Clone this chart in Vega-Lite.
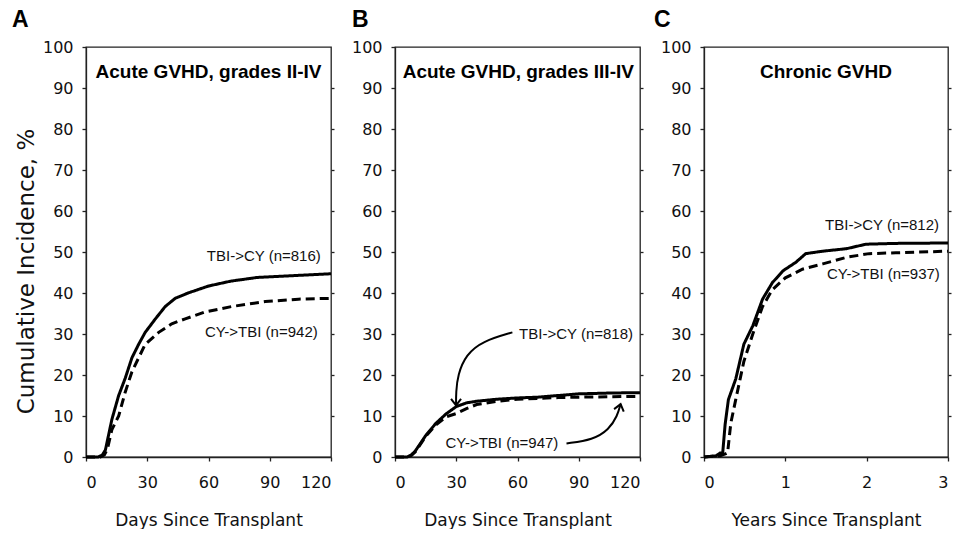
{
  "$schema": "https://vega.github.io/schema/vega-lite/v6.json",
  "background": "white",
  "padding": {"left": 11, "top": 8, "right": 0, "bottom": 0},
  "spacing": 64,
  "bounds": "flush",
  "datasets": {
    "curvesA": [
      {"t": 0, "v": 0, "g": "TBI->CY"}, {"t": 6, "v": 0, "g": "TBI->CY"}, {"t": 8, "v": 0.5, "g": "TBI->CY"}, {"t": 9.5, "v": 1.7, "g": "TBI->CY"},
      {"t": 12.7, "v": 9.2, "g": "TBI->CY"}, {"t": 16, "v": 15, "g": "TBI->CY"}, {"t": 19.2, "v": 19.2, "g": "TBI->CY"}, {"t": 22.5, "v": 24.2, "g": "TBI->CY"},
      {"t": 25.8, "v": 27.5, "g": "TBI->CY"}, {"t": 29, "v": 30.4, "g": "TBI->CY"}, {"t": 34, "v": 33.7, "g": "TBI->CY"}, {"t": 38.8, "v": 36.7, "g": "TBI->CY"},
      {"t": 43.7, "v": 38.7, "g": "TBI->CY"}, {"t": 50, "v": 40, "g": "TBI->CY"}, {"t": 60, "v": 41.7, "g": "TBI->CY"}, {"t": 71, "v": 42.9, "g": "TBI->CY"},
      {"t": 84, "v": 43.8, "g": "TBI->CY"}, {"t": 104, "v": 44.3, "g": "TBI->CY"}, {"t": 120, "v": 44.7, "g": "TBI->CY"},
      {"t": 0, "v": 0, "g": "CY->TBI"}, {"t": 7, "v": 0, "g": "CY->TBI"}, {"t": 9, "v": 0.5, "g": "CY->TBI"}, {"t": 10.5, "v": 2, "g": "CY->TBI"},
      {"t": 12.7, "v": 6.7, "g": "CY->TBI"}, {"t": 16, "v": 10, "g": "CY->TBI"}, {"t": 19.2, "v": 15.8, "g": "CY->TBI"}, {"t": 22.5, "v": 20.8, "g": "CY->TBI"},
      {"t": 25.8, "v": 24.2, "g": "CY->TBI"}, {"t": 29, "v": 27.5, "g": "CY->TBI"}, {"t": 35.6, "v": 30.4, "g": "CY->TBI"}, {"t": 42, "v": 32.5, "g": "CY->TBI"},
      {"t": 48.6, "v": 33.7, "g": "CY->TBI"}, {"t": 58.4, "v": 35.4, "g": "CY->TBI"}, {"t": 71.4, "v": 36.7, "g": "CY->TBI"}, {"t": 87.8, "v": 37.9, "g": "CY->TBI"},
      {"t": 104, "v": 38.5, "g": "CY->TBI"}, {"t": 120, "v": 38.7, "g": "CY->TBI"}
    ],
    "curvesB": [
      {"t": 0, "v": 0, "g": "TBI->CY"}, {"t": 6, "v": 0, "g": "TBI->CY"}, {"t": 8, "v": 0.5, "g": "TBI->CY"}, {"t": 10, "v": 1.5, "g": "TBI->CY"},
      {"t": 15, "v": 5.2, "g": "TBI->CY"}, {"t": 20, "v": 8.2, "g": "TBI->CY"}, {"t": 25, "v": 10.5, "g": "TBI->CY"}, {"t": 30, "v": 12.3, "g": "TBI->CY"},
      {"t": 35, "v": 13.2, "g": "TBI->CY"}, {"t": 40, "v": 13.6, "g": "TBI->CY"}, {"t": 50, "v": 14.1, "g": "TBI->CY"}, {"t": 60, "v": 14.4, "g": "TBI->CY"},
      {"t": 70, "v": 14.6, "g": "TBI->CY"}, {"t": 80, "v": 15, "g": "TBI->CY"}, {"t": 90, "v": 15.4, "g": "TBI->CY"}, {"t": 105, "v": 15.6, "g": "TBI->CY"},
      {"t": 120, "v": 15.7, "g": "TBI->CY"},
      {"t": 0, "v": 0, "g": "CY->TBI"}, {"t": 6, "v": 0, "g": "CY->TBI"}, {"t": 8, "v": 0.4, "g": "CY->TBI"}, {"t": 10, "v": 1.3, "g": "CY->TBI"},
      {"t": 15, "v": 5, "g": "CY->TBI"}, {"t": 20, "v": 7.8, "g": "CY->TBI"}, {"t": 25, "v": 9.8, "g": "CY->TBI"}, {"t": 30, "v": 10.6, "g": "CY->TBI"},
      {"t": 35, "v": 11.8, "g": "CY->TBI"}, {"t": 40, "v": 12.8, "g": "CY->TBI"}, {"t": 50, "v": 13.6, "g": "CY->TBI"}, {"t": 60, "v": 14.1, "g": "CY->TBI"},
      {"t": 70, "v": 14.3, "g": "CY->TBI"}, {"t": 80, "v": 14.5, "g": "CY->TBI"}, {"t": 90, "v": 14.6, "g": "CY->TBI"}, {"t": 105, "v": 14.7, "g": "CY->TBI"},
      {"t": 120, "v": 14.8, "g": "CY->TBI"}
    ],
    "curvesC": [
      {"t": 0, "v": 0, "g": "TBI->CY"}, {"t": 0.15, "v": 0.3, "g": "TBI->CY"}, {"t": 0.2, "v": 1, "g": "TBI->CY"}, {"t": 0.23, "v": 1, "g": "TBI->CY"},
      {"t": 0.26, "v": 8, "g": "TBI->CY"}, {"t": 0.3, "v": 14, "g": "TBI->CY"}, {"t": 0.39, "v": 19, "g": "TBI->CY"}, {"t": 0.49, "v": 27.5, "g": "TBI->CY"},
      {"t": 0.6, "v": 32, "g": "TBI->CY"}, {"t": 0.72, "v": 38.5, "g": "TBI->CY"}, {"t": 0.84, "v": 42.5, "g": "TBI->CY"}, {"t": 0.97, "v": 45.4, "g": "TBI->CY"},
      {"t": 1.13, "v": 47.5, "g": "TBI->CY"}, {"t": 1.25, "v": 49.6, "g": "TBI->CY"}, {"t": 1.46, "v": 50.2, "g": "TBI->CY"}, {"t": 1.75, "v": 50.8, "g": "TBI->CY"},
      {"t": 1.99, "v": 51.9, "g": "TBI->CY"}, {"t": 2.36, "v": 52.1, "g": "TBI->CY"}, {"t": 3, "v": 52.2, "g": "TBI->CY"},
      {"t": 0, "v": 0, "g": "CY->TBI"}, {"t": 0.2, "v": 0.3, "g": "CY->TBI"}, {"t": 0.27, "v": 0.8, "g": "CY->TBI"}, {"t": 0.29, "v": 1, "g": "CY->TBI"},
      {"t": 0.33, "v": 8.3, "g": "CY->TBI"}, {"t": 0.39, "v": 14, "g": "CY->TBI"}, {"t": 0.49, "v": 23.3, "g": "CY->TBI"}, {"t": 0.6, "v": 30, "g": "CY->TBI"},
      {"t": 0.72, "v": 36.7, "g": "CY->TBI"}, {"t": 0.84, "v": 40.8, "g": "CY->TBI"}, {"t": 1.0, "v": 43.7, "g": "CY->TBI"}, {"t": 1.21, "v": 45.8, "g": "CY->TBI"},
      {"t": 1.46, "v": 47.1, "g": "CY->TBI"}, {"t": 1.75, "v": 48.7, "g": "CY->TBI"}, {"t": 2.03, "v": 49.6, "g": "CY->TBI"}, {"t": 2.36, "v": 49.8, "g": "CY->TBI"},
      {"t": 3, "v": 50.2, "g": "CY->TBI"}
    ],
    "titles": [
      {"panel": "A", "t": 60, "v": 94, "label": "Acute GVHD, grades II-IV"},
      {"panel": "B", "t": 60.4, "v": 94, "label": "Acute GVHD, grades III-IV"},
      {"panel": "C", "t": 1.5, "v": 94, "label": "Chronic GVHD"}
    ],
    "labels": [
      {"panel": "A", "t": 115, "v": 49, "label": "TBI->CY (n=816)"},
      {"panel": "A", "t": 113.5, "v": 30.5, "label": "CY->TBI (n=942)"},
      {"panel": "B", "t": 116.6, "v": 30, "label": "TBI->CY (n=818)"},
      {"panel": "B", "t": 80, "v": 3.3, "label": "CY->TBI (n=947)"},
      {"panel": "C", "t": 2.89, "v": 56.7, "label": "TBI->CY (n=812)"},
      {"panel": "C", "t": 2.9, "v": 44.6, "label": "CY->TBI (n=937)"}
    ],
    "arrows": [
      {"arrow": 1, "i": 0, "t": 57.5, "v": 30.4}, {"arrow": 1, "i": 1, "t": 43, "v": 28.3}, {"arrow": 1, "i": 2, "t": 34.8, "v": 25},
      {"arrow": 1, "i": 3, "t": 30.7, "v": 20}, {"arrow": 1, "i": 4, "t": 29.9, "v": 15.8}, {"arrow": 1, "i": 5, "t": 29.9, "v": 12.6},
      {"arrow": 2, "i": 0, "t": 84, "v": 3.3}, {"arrow": 2, "i": 1, "t": 97, "v": 4.2}, {"arrow": 2, "i": 2, "t": 104.8, "v": 6.7},
      {"arrow": 2, "i": 3, "t": 108.9, "v": 10}, {"arrow": 2, "i": 4, "t": 110.5, "v": 12.9}
    ],
    "heads": [
      {"arrow": 1, "t": 29.9, "v": 12.6},
      {"arrow": 2, "t": 110.5, "v": 12.9}
    ]
  },
  "hconcat": [
    {
      "width": 245, "height": 410,
      "title": {"text": "A", "dx": -74},
      "encoding": {
        "x": {"field": "t", "type": "quantitative", "scale": {"domain": [0, 120], "nice": false}, "axis": {"values": [0, 30, 60, 90, 120], "title": "Days Since Transplant"}},
        "y": {"field": "v", "type": "quantitative", "scale": {"domain": [0, 100], "nice": false}, "axis": null}
      },
      "layer": [
        {
          "data": {"name": "curvesA"},
          "mark": {"type": "line", "strokeWidth": 3, "color": "#000"},
          "encoding": {
            "y": {"field": "v", "type": "quantitative", "axis": {"values": [0, 10, 20, 30, 40, 50, 60, 70, 80, 90, 100], "title": "Cumulative Incidence, %", "titleFontSize": 23, "titleY": 224, "titlePadding": 4}},
            "strokeDash": {"field": "g", "type": "nominal", "scale": {"domain": ["TBI->CY", "CY->TBI"], "range": [[1, 0], [9, 5]]}, "legend": null}
          }
        },
        {
          "data": {"name": "curvesA"},
          "mark": {"type": "line", "opacity": 0},
          "encoding": {
            "y": {"field": "v", "type": "quantitative", "axis": {"orient": "right", "labels": false, "domain": false, "title": null, "tickSize": 3, "values": [10, 20, 30, 40, 50, 60, 70, 80, 90]}},
            "detail": {"field": "g", "type": "nominal"}
          }
        },
        {
          "data": {"name": "titles"},
          "transform": [{"filter": "datum.panel == 'A'"}],
          "mark": {"type": "text", "font": "Liberation Sans", "fontWeight": "bold", "fontSize": 19, "align": "center", "baseline": "middle", "color": "#000"},
          "encoding": {"text": {"field": "label"}}
        },
        {
          "data": {"name": "labels"},
          "transform": [{"filter": "datum.panel == 'A'"}],
          "mark": {"type": "text", "font": "Liberation Sans", "fontSize": 15, "align": "right", "baseline": "middle", "color": "#111"},
          "encoding": {"text": {"field": "label"}}
        }
      ],
      "resolve": {"axis": {"y": "independent"}}
    },
    {
      "width": 245, "height": 410,
      "title": {"text": "B", "dx": -43},
      "encoding": {
        "x": {"field": "t", "type": "quantitative", "scale": {"domain": [0, 120], "nice": false}, "axis": {"values": [0, 30, 60, 90, 120], "title": "Days Since Transplant"}},
        "y": {"field": "v", "type": "quantitative", "scale": {"domain": [0, 100], "nice": false}, "axis": null}
      },
      "layer": [
        {
          "data": {"name": "curvesB"},
          "mark": {"type": "line", "strokeWidth": 3, "color": "#000"},
          "encoding": {
            "y": {"field": "v", "type": "quantitative", "axis": {"values": [0, 10, 20, 30, 40, 50, 60, 70, 80, 90, 100], "title": null}},
            "strokeDash": {"field": "g", "type": "nominal", "scale": {"domain": ["TBI->CY", "CY->TBI"], "range": [[1, 0], [9, 5]]}, "legend": null}
          }
        },
        {
          "data": {"name": "curvesB"},
          "mark": {"type": "line", "opacity": 0},
          "encoding": {
            "y": {"field": "v", "type": "quantitative", "axis": {"orient": "right", "labels": false, "domain": false, "title": null, "tickSize": 3, "values": [10, 20, 30, 40, 50, 60, 70, 80, 90]}},
            "detail": {"field": "g", "type": "nominal"}
          }
        },
        {
          "data": {"name": "arrows"},
          "mark": {"type": "line", "strokeWidth": 2, "color": "#000", "interpolate": "basis"},
          "encoding": {
            "detail": {"field": "arrow", "type": "nominal"},
            "order": {"field": "i", "type": "quantitative"}
          }
        },
        {
          "data": {"name": "heads"},
          "transform": [{"filter": "datum.arrow == 1"}],
          "mark": {"type": "point", "shape": "M-1,-1.3L0,0L1,-1.3", "filled": false, "size": 100, "strokeWidth": 2, "color": "#000", "opacity": 1}
        },
        {
          "data": {"name": "heads"},
          "transform": [{"filter": "datum.arrow == 2"}],
          "mark": {"type": "point", "shape": "M-1,1.3L0,0L1,1.3", "filled": false, "size": 100, "strokeWidth": 2, "color": "#000", "opacity": 1, "angle": 15}
        },
        {
          "data": {"name": "titles"},
          "transform": [{"filter": "datum.panel == 'B'"}],
          "mark": {"type": "text", "font": "Liberation Sans", "fontWeight": "bold", "fontSize": 19, "align": "center", "baseline": "middle", "color": "#000"},
          "encoding": {"text": {"field": "label"}}
        },
        {
          "data": {"name": "labels"},
          "transform": [{"filter": "datum.panel == 'B'"}],
          "mark": {"type": "text", "font": "Liberation Sans", "fontSize": 15, "align": "right", "baseline": "middle", "color": "#111"},
          "encoding": {"text": {"field": "label"}}
        }
      ],
      "resolve": {"axis": {"y": "independent"}}
    },
    {
      "width": 244, "height": 410,
      "title": {"text": "C", "dx": -50},
      "encoding": {
        "x": {"field": "t", "type": "quantitative", "scale": {"domain": [0, 3], "nice": false}, "axis": {"values": [0, 1, 2, 3], "title": "Years Since Transplant"}},
        "y": {"field": "v", "type": "quantitative", "scale": {"domain": [0, 100], "nice": false}, "axis": null}
      },
      "layer": [
        {
          "data": {"name": "curvesC"},
          "mark": {"type": "line", "strokeWidth": 3, "color": "#000"},
          "encoding": {
            "y": {"field": "v", "type": "quantitative", "axis": {"values": [0, 10, 20, 30, 40, 50, 60, 70, 80, 90, 100], "title": null}},
            "strokeDash": {"field": "g", "type": "nominal", "scale": {"domain": ["TBI->CY", "CY->TBI"], "range": [[1, 0], [9, 5]]}, "legend": null}
          }
        },
        {
          "data": {"name": "curvesC"},
          "mark": {"type": "line", "opacity": 0},
          "encoding": {
            "y": {"field": "v", "type": "quantitative", "axis": {"orient": "right", "labels": false, "domain": false, "title": null, "tickSize": 3, "values": [10, 20, 30, 40, 50, 60, 70, 80, 90]}},
            "detail": {"field": "g", "type": "nominal"}
          }
        },
        {
          "data": {"name": "titles"},
          "transform": [{"filter": "datum.panel == 'C'"}],
          "mark": {"type": "text", "font": "Liberation Sans", "fontWeight": "bold", "fontSize": 19, "align": "center", "baseline": "middle", "color": "#000"},
          "encoding": {"text": {"field": "label"}}
        },
        {
          "data": {"name": "labels"},
          "transform": [{"filter": "datum.panel == 'C'"}],
          "mark": {"type": "text", "font": "Liberation Sans", "fontSize": 15, "align": "right", "baseline": "middle", "color": "#111"},
          "encoding": {"text": {"field": "label"}}
        }
      ],
      "resolve": {"axis": {"y": "independent"}}
    }
  ],
  "config": {
    "view": {"stroke": "#222", "strokeWidth": 1.3},
    "axis": {
      "grid": false, "domainColor": "#222", "domainWidth": 1.3, "tickColor": "#222", "tickWidth": 1.3, "tickSize": 4,
      "labelFont": "DejaVu Sans", "labelFontSize": 16, "labelColor": "#111", "labelPadding": 9,
      "titleFont": "DejaVu Sans", "titleFontSize": 17, "titleFontWeight": "normal", "titleColor": "#111"
    },
    "axisX": {"labelPadding": 13, "titlePadding": 22},
    "title": {"font": "Liberation Sans", "fontWeight": "bold", "fontSize": 23, "anchor": "start", "frame": "group", "color": "#000", "offset": 7}
  }
}
